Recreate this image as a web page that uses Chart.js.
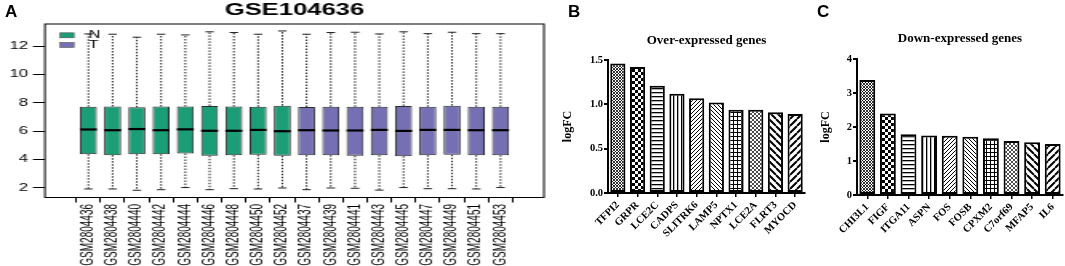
<!DOCTYPE html>
<html>
<head>
<meta charset="utf-8">
<script src="https://cdn.jsdelivr.net/npm/chart.js@4.4.1/dist/chart.umd.min.js"></script>
<style>
  html, body { margin: 0; padding: 0; background: #fff; }
  body { width: 1065px; height: 266px; position: relative; overflow: hidden; }
  canvas { position: absolute; top: 0; }
  #chartA { left: 0; transform: scaleX(1.6); transform-origin: 0 0; }
  #chartB { left: 545px; }
  #chartC { left: 810px; }
  .tag { position: absolute; top: 3px; font: bold 17px/17px "Liberation Sans", Arial, sans-serif; color: #000; }
</style>
</head>
<body>
<canvas id="chartA" width="347" height="266"></canvas>
<canvas id="chartB" width="265" height="266"></canvas>
<canvas id="chartC" width="255" height="266"></canvas>
<div class="tag" style="left:5px">A</div>
<div class="tag" style="left:568px">B</div>
<div class="tag" style="left:817px">C</div>
<script>
// panel A : expression boxplots per sample
const sampleIds = ['GSM2804436','GSM2804438','GSM2804440','GSM2804442','GSM2804444','GSM2804446','GSM2804448','GSM2804450','GSM2804452',
                   'GSM2804437','GSM2804439','GSM2804441','GSM2804443','GSM2804445','GSM2804447','GSM2804449','GSM2804451','GSM2804453'];
const sampleGroup = ['N','N','N','N','N','N','N','N','N','T','T','T','T','T','T','T','T','T'];
const groupLabels = ['N', 'T'];
const whiskerHigh = [12.85,12.83,12.62,12.83,12.78,13.00,12.95,12.83,13.06,12.83,12.95,12.97,12.85,13.00,12.87,12.97,12.87,12.87];
const upperQ      = [7.72,7.74,7.68,7.74,7.74,7.78,7.74,7.72,7.80,7.70,7.72,7.72,7.72,7.78,7.72,7.80,7.72,7.72];
const medianVal   = [6.12,6.07,6.15,6.07,6.13,6.03,6.03,6.09,6.00,6.07,6.05,6.05,6.09,6.02,6.09,6.09,6.07,6.07];
const lowerQ      = [4.38,4.31,4.38,4.38,4.43,4.27,4.31,4.34,4.27,4.31,4.31,4.27,4.31,4.24,4.31,4.34,4.31,4.31];
const whiskerLow  = [1.93,1.93,1.84,1.88,2.03,1.88,1.95,1.93,2.00,1.88,2.00,1.98,1.85,2.03,1.95,1.95,1.93,2.03];
const yTicksA = [2, 4, 6, 8, 10, 12];

// panels B / C : top genes
const upGenes = ['TFPI2','GRPR','LCE2C','CADPS','SLITRK6','LAMP5','NPTX1','LCE2A','FLRT3','MYOCD'];
const upLogFC = [1.46,1.42,1.21,1.12,1.07,1.02,0.94,0.94,0.91,0.89];
const downGenes = ['CHI3L1','FIGF','ITGA11','ASPN','FOS','FOSB','CPXM2','C7orf69','MFAP5','IL6'];
const downLogFC = [3.38,2.40,1.79,1.75,1.74,1.71,1.67,1.59,1.55,1.50];

const groupColors = { N: '#1B9E77', T: '#7570B3' };
const barFills = ['crossFine','checker','hLines','vLines','upFine','downFine','grid','crossDots','downCoarse','upCoarse'];

Chart.defaults.color = '#000';
Chart.defaults.animation = false;
Chart.defaults.events = [];

const sans = "'Liberation Sans', Arial, sans-serif";
const serif = "'Liberation Serif', 'Times New Roman', serif";

// --- hatch patterns for the gene bars
function tile(n, paint) {
  const c = document.createElement('canvas');
  c.width = c.height = n;
  const g = c.getContext('2d');
  g.fillStyle = '#fff'; g.fillRect(0, 0, n, n);
  g.fillStyle = '#000'; g.strokeStyle = '#000';
  paint(g, n);
  return g.createPattern(c, 'repeat');
}
function diag(g, n, w, up) {
  g.lineWidth = w;
  g.beginPath();
  for (let k = -1; k <= 1; k++) {
    if (up) { g.moveTo(k * n, n); g.lineTo(k * n + n, 0); }
    else { g.moveTo(k * n, 0); g.lineTo(k * n + n, n); }
  }
  g.stroke();
}
const painters = {
  crossFine:  () => tile(3, (g, n) => { diag(g, n, 0.8, true); diag(g, n, 0.8, false); }),
  checker:    () => tile(6, g => { g.fillRect(0, 0, 3, 3); g.fillRect(3, 3, 3, 3); }),
  hLines:     () => tile(4, g => g.fillRect(0, 0, 4, 1.3)),
  vLines:     () => tile(4, g => g.fillRect(0, 0, 1.3, 4)),
  upFine:     () => tile(4, (g, n) => diag(g, n, 1, true)),
  downFine:   () => tile(4, (g, n) => diag(g, n, 1, false)),
  grid:       () => tile(4, g => { g.fillRect(0, 0, 4, 1); g.fillRect(0, 0, 1, 4); }),
  crossDots:  () => tile(4, (g, n) => { diag(g, n, 0.7, true); diag(g, n, 0.7, false); }),
  downCoarse: () => tile(7, (g, n) => diag(g, n, 2, false)),
  upCoarse:   () => tile(7, (g, n) => diag(g, n, 2, true))
};

// --- boxplot extras: whiskers, medians, frame, legend
const boxDecor = {
  id: 'boxDecor',
  beforeDatasetsDraw(chart) {
    const { ctx, scales: { x, y } } = chart;
    const meta = chart.getDatasetMeta(0);
    ctx.save();
    ctx.strokeStyle = '#222';
    ctx.lineWidth = 1;
    sampleIds.forEach((s, i) => {
      const cx = x.getPixelForValue(i + 1);
      const cap = meta.data[i].width / 4;
      ctx.setLineDash([1.5, 1.5]);
      ctx.beginPath();
      ctx.moveTo(cx, y.getPixelForValue(upperQ[i])); ctx.lineTo(cx, y.getPixelForValue(whiskerHigh[i]));
      ctx.moveTo(cx, y.getPixelForValue(lowerQ[i])); ctx.lineTo(cx, y.getPixelForValue(whiskerLow[i]));
      ctx.stroke();
      ctx.setLineDash([]);
      ctx.beginPath();
      [whiskerHigh[i], whiskerLow[i]].forEach(v => {
        const py = y.getPixelForValue(v);
        ctx.moveTo(cx - cap, py); ctx.lineTo(cx + cap, py);
      });
      ctx.stroke();
    });
    ctx.restore();
  },
  afterDatasetsDraw(chart) {
    const { ctx, chartArea: a, scales: { x, y } } = chart;
    const meta = chart.getDatasetMeta(0);
    ctx.save();
    ctx.strokeStyle = '#000';
    ctx.lineWidth = 2.2;
    sampleIds.forEach((s, i) => {
      const half = meta.data[i].width / 2;
      const cx = x.getPixelForValue(i + 1);
      const py = y.getPixelForValue(medianVal[i]);
      ctx.beginPath(); ctx.moveTo(cx - half, py); ctx.lineTo(cx + half, py); ctx.stroke();
    });
    ctx.lineWidth = 1;
    ctx.strokeRect(a.left, a.top, a.right - a.left, a.bottom - a.top);
    // legend, top-left inside the box
    ctx.font = '10px ' + sans;
    ctx.textBaseline = 'middle';
    groupLabels.forEach((g, k) => {
      const cy = a.top + 11.3 + k * 9.7;
      ctx.fillStyle = groupColors[g];
      ctx.fillRect(a.left + 9.4, cy - 2.5, 8.7, 5);
      ctx.strokeStyle = '#555'; ctx.lineWidth = 0.6;
      ctx.strokeRect(a.left + 9.4, cy - 2.5, 8.7, 5);
      ctx.fillStyle = '#000';
      ctx.fillText(g, a.left + 27.5, cy);
    });
    ctx.restore();
  }
};

new Chart(document.getElementById('chartA'), {
  type: 'bar',
  data: {
    datasets: [{
      data: sampleIds.map((s, i) => ({ x: i + 1, y: [lowerQ[i], upperQ[i]] })),
      backgroundColor: sampleGroup.map(g => groupColors[g]),
      borderColor: '#2b2b2b',
      borderWidth: 1,
      borderSkipped: false,
      barPercentage: 0.7,
      categoryPercentage: 1
    }]
  },
  plugins: [boxDecor],
  options: {
    responsive: false,
    layout: { padding: { left: 0, right: 7, top: 0, bottom: 0 } },
    plugins: {
      legend: { display: false },
      tooltip: { enabled: false },
      title: {
        display: true, text: 'GSE104636', fullSize: false, color: '#000',
        font: { family: sans, size: 16, weight: 'bold', lineHeight: 1.2 },
        padding: { top: 1, bottom: 3.8 }
      }
    },
    scales: {
      x: {
        type: 'linear', min: -0.22, max: 19.22,
        afterBuildTicks: s => { s.ticks = sampleIds.map((id, i) => ({ value: i + 1 })); },
        afterFit: s => { s.height = 68.5; },
        grid: { drawOnChartArea: false, tickLength: 5, color: '#000', lineWidth: 1 },
        border: { display: false },
        ticks: {
          autoSkip: false, minRotation: 90, maxRotation: 90, padding: 1.5,
          font: { family: sans, size: 10 },
          callback: (v, i) => sampleIds[i]
        }
      },
      y: {
        min: 1.33, max: 13.55,
        afterBuildTicks: s => { s.ticks = yTicksA.map(v => ({ value: v })); },
        afterFit: s => { s.width = 28.1; },
        grid: { drawOnChartArea: false, tickLength: 7.5, color: '#000', lineWidth: 1 },
        border: { display: false },
        ticks: { padding: 3, font: { family: sans, size: 10.5 }, callback: v => String(v) }
      }
    }
  }
});

function geneChart(id, genes, values, title, yMax, yStep, decimals, lay) {
  return new Chart(document.getElementById(id), {
    type: 'bar',
    data: {
      labels: genes,
      datasets: [{
        data: values,
        backgroundColor: barFills.map(f => painters[f]()),
        borderColor: '#000',
        borderWidth: 2,
        borderSkipped: false,
        barPercentage: 0.77,
        categoryPercentage: 1
      }]
    },
    options: {
      responsive: false,
      layout: { padding: { left: 0, right: lay.right, top: 0, bottom: 0 } },
      plugins: {
        legend: { display: false },
        tooltip: { enabled: false },
        title: {
          display: true, text: title, fullSize: false, color: '#000',
          font: { family: serif, size: 13, weight: 'bold', lineHeight: 1.2 },
          padding: { top: lay.titleTop, bottom: lay.titleBottom }
        }
      },
      scales: {
        x: {
          afterFit: s => { s.height = lay.xHeight; },
          grid: { drawOnChartArea: false, offset: false, tickLength: 4, color: '#000', lineWidth: 1.5 },
          border: { display: true, color: '#000', width: 2 },
          ticks: { autoSkip: false, minRotation: 45, maxRotation: 45, padding: 2,
                   font: { family: serif, size: 10.5, weight: 'bold' } }
        },
        y: {
          min: 0, max: yMax,
          afterFit: s => { s.width = lay.yWidth; },
          grid: { drawOnChartArea: false, tickLength: 4, color: '#000', lineWidth: 2 },
          border: { display: true, color: '#000', width: 2 },
          ticks: { stepSize: yStep, padding: 1, font: { family: serif, size: 10.5, weight: 'bold' },
                   callback: v => v.toFixed(decimals) },
          title: { display: true, text: 'logFC', color: '#000',
                   font: { family: serif, size: 12, weight: 'bold', lineHeight: 1.2 },
                   padding: { top: lay.yTitlePad, bottom: 0 } }
        }
      }
    }
  });
}

geneChart('chartB', upGenes, upLogFC, 'Over-expressed genes', 1.5, 0.5, 1,
  { right: 5, titleTop: 32.7, titleBottom: 11.7, xHeight: 73, yWidth: 63, yTitlePad: 15.3 });
geneChart('chartC', downGenes, downLogFC, 'Down-expressed genes', 4, 1, 0,
  { right: 2, titleTop: 31.2, titleBottom: 12.2, xHeight: 71, yWidth: 47, yTitlePad: 8.8 });
</script>
</body>
</html>
